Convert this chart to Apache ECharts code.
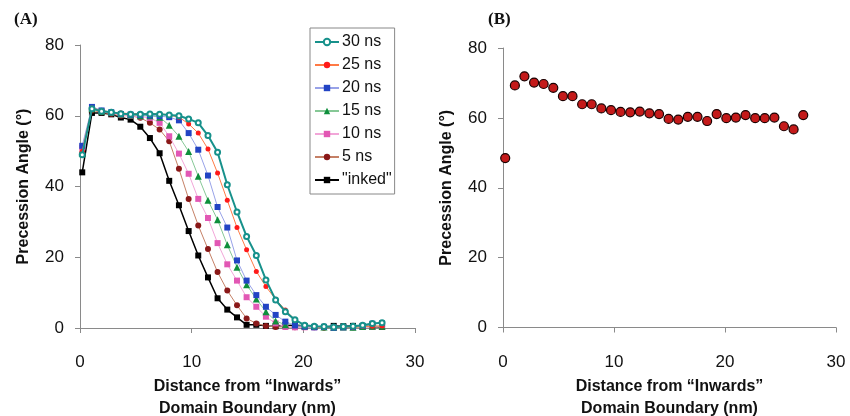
<!DOCTYPE html>
<html>
<head>
<meta charset="utf-8">
<script src="https://cdn.jsdelivr.net/npm/echarts@6/dist/echarts.min.js"></script>
<style>html,body{margin:0;padding:0;background:#fff}#c{width:850px;height:416px}</style>
</head>
<body>
<div id="c"></div>
<script>
// Distance from "Inwards" domain boundary (nm), shared by all series
const xPos = [0.2, 1.07, 1.93, 2.8, 3.66, 4.53, 5.4, 6.26, 7.13, 7.99, 8.86, 9.73, 10.59, 11.46, 12.32, 13.19,
  14.06, 14.92, 15.79, 16.65, 17.52, 18.39, 19.25, 20.12, 20.98, 21.85, 22.72, 23.58, 24.45, 25.31, 26.18, 27.05];

// Panel A series (precession angle, degrees)
const ns30 = [49.0, 62.0, 61.3, 61.0, 60.6, 60.4, 60.4, 60.5, 60.4, 60.2, 60.0, 59.1, 58.0, 54.4, 49.7, 40.5,
  32.8, 25.9, 20.5, 13.6, 7.9, 4.6, 2.3, 0.8, 0.5, 0.4, 0.3, 0.4, 0.5, 0.8, 1.3, 1.5];
const ns25 = [50.0, 62.2, 61.5, 61.0, 60.8, 60.6, 60.6, 60.6, 60.6, 60.2, 59.6, 57.7, 55.1, 50.6, 43.8, 36.1,
  28.4, 22.1, 16.0, 11.7, 8.1, 5.1, 2.3, 0.8, 0.3, 0.2, 0.2, 0.3, 0.2, 0.4, 0.5, 0.6];
const ns20 = [51.5, 62.5, 61.5, 61.0, 60.5, 60.3, 60.2, 60.1, 59.9, 59.6, 58.7, 55.1, 50.4, 43.1, 34.2, 28.4,
  19.1, 13.4, 9.3, 6.0, 3.7, 1.8, 0.7, 0.4, 0.2, 0.3, 0.1, 0.2, 0.3, 0.6, 1.2, 1.3];
const ns15 = [49.5, 62.0, 61.3, 61.0, 60.5, 60.2, 60.0, 60.0, 59.6, 57.3, 54.2, 49.9, 42.9, 36.1, 30.6, 23.5,
  17.2, 12.2, 8.2, 4.6, 2.0, 0.9, 1.2, 0.6, 0.4, 0.3, 0.2, 0.3, 0.2, 0.4, 0.5, 0.5];
const ns10 = [51.0, 62.0, 61.3, 60.8, 60.3, 60.0, 59.8, 59.4, 58.0, 54.2, 49.3, 43.6, 36.5, 31.1, 24.0, 18.0,
  13.4, 8.7, 6.0, 3.2, 1.3, 0.3, 0.2, 0.2, 0.2, 0.3, 0.1, 0.2, 0.2, 0.3, 0.4, 0.5];
const ns5 = [49.5, 61.5, 61.0, 60.5, 60.0, 60.0, 59.4, 58.0, 56.1, 52.8, 45.0, 36.5, 29.0, 22.3, 15.8, 10.6,
  6.4, 2.7, 1.3, 0.6, 0.3, 0.3, 0.2, 0.3, 0.2, 0.1, 0.2, 0.3, 0.2, 0.3, 0.4, 0.4];
const inked = [44.0, 60.8, 60.8, 60.4, 59.5, 58.9, 56.9, 53.7, 49.4, 41.6, 34.7, 27.4, 20.5, 14.3, 8.4, 5.2,
  3.0, 0.9, 0.9, 0.6, 0.5, 0.8, 0.8, 0.5, 0.3, 0.3, 0.6, 0.5, 0.6, 0.5, 0.4, 0.3];

// Panel B
const panelB = [48.5, 69.3, 71.9, 70.1, 69.7, 68.6, 66.2, 66.2, 63.9, 63.9, 62.7, 62.2, 61.7, 61.6, 61.8, 61.3,
  61.1, 59.7, 59.5, 60.3, 60.3, 59.1, 61.1, 59.9, 60.1, 60.8, 59.9, 59.9, 60.1, 57.6, 56.7, 60.8];

const legendNames = ['30 ns', '25 ns', '20 ns', '15 ns', '10 ns', '5 ns', '"inked"'];
const xTicks = [0, 10, 20, 30];
const yTicks = [0, 20, 40, 60, 80];

const pair = (ys) => xPos.map((x, i) => [x, ys[i]]);

const FONT = 'Liberation Sans, Arial, sans-serif';
const axisCommon = {
  axisLine: { show: true, lineStyle: { color: '#8a8a8a', width: 1 } },
  axisTick: { show: true, inside: false, length: 5, lineStyle: { color: '#8a8a8a' } },
  splitLine: { show: false },
  axisLabel: { color: '#111', fontSize: 17, fontFamily: FONT },
  nameTextStyle: { color: '#111', fontSize: 16, fontWeight: 'bold', fontFamily: FONT }
};
const xAxisOf = (gi) => Object.assign({}, axisCommon, {
  type: 'value', gridIndex: gi, min: xTicks[0], max: xTicks[xTicks.length - 1], interval: 10,
  axisLabel: Object.assign({}, axisCommon.axisLabel, { margin: 26, showMaxLabel: true }),
  name: 'Distance from \u201cInwards\u201d\nDomain Boundary (nm)', nameLocation: 'middle', nameGap: 48,
  nameTextStyle: Object.assign({}, axisCommon.nameTextStyle, { lineHeight: 22 })
});
const yAxisOf = (gi) => Object.assign({}, axisCommon, {
  type: 'value', gridIndex: gi, min: yTicks[0], max: yTicks[yTicks.length - 1], interval: 20,
  axisLabel: Object.assign({}, axisCommon.axisLabel, { margin: 16 }),
  name: 'Precession Angle (\u00b0)', nameLocation: 'middle', nameGap: 48
});

const styles = [
  { color: '#17918b', line: '#17918b', symbol: 'emptyCircle', size: 5, width: 2 },
  { color: '#ff1a1a', line: '#ff7a45', symbol: 'circle', size: 5, width: 1 },
  { color: '#2244c4', line: '#98a2e8', symbol: 'rect', size: 6, width: 1 },
  { color: '#0f8f3c', line: '#86c896', symbol: 'triangle', size: 7, width: 1 },
  { color: '#e257b4', line: '#f2a6d8', symbol: 'rect', size: 6, width: 1 },
  { color: '#8a1818', line: '#c58066', symbol: 'circle', size: 6, width: 1 },
  { color: '#000000', line: '#000000', symbol: 'rect', size: 6, width: 1.5 }
];
const dataA = [ns30, ns25, ns20, ns15, ns10, ns5, inked];

const seriesA = dataA.map((d, k) => ({
  type: 'line', name: legendNames[k], xAxisIndex: 0, yAxisIndex: 0,
  data: pair(d), symbol: styles[k].symbol, symbolSize: styles[k].size, showSymbol: true, showAllSymbol: true,
  itemStyle: { color: styles[k].color, borderWidth: styles[k].symbol === 'emptyCircle' ? 1.3 : 0 },
  lineStyle: { color: styles[k].line, width: styles[k].width, type: 'solid' },
  animation: false, z: 10 - k
}));

const option = {
  backgroundColor: '#ffffff',
  animation: false,
  title: [
    { text: '(A)', left: 9, top: 6, textStyle: { fontFamily: 'Liberation Serif, Times New Roman, serif', fontWeight: 'bold', fontSize: 17, color: '#111' } },
    { text: '(B)', left: 483, top: 6, textStyle: { fontFamily: 'Liberation Serif, Times New Roman, serif', fontWeight: 'bold', fontSize: 17, color: '#111' } }
  ],
  grid: [
    { left: 80, top: 45, width: 335, height: 283, containLabel: false, outerBoundsMode: 'none' },
    { left: 503, top: 48, width: 333, height: 279.5, containLabel: false, outerBoundsMode: 'none' }
  ],
  xAxis: [xAxisOf(0), xAxisOf(1)],
  yAxis: [yAxisOf(0), yAxisOf(1)],
  legend: {
    data: legendNames, orient: 'vertical', left: 310, top: 28,
    padding: [6, 3, 6, 4], itemGap: 7, itemWidth: 24, itemHeight: 8,
    borderColor: '#888', borderWidth: 1,
    textStyle: { color: '#111', fontSize: 16, fontFamily: FONT, lineHeight: 16, padding: [0, 0, 0, -2] }
  },
  series: seriesA.concat([{
    type: 'scatter', xAxisIndex: 1, yAxisIndex: 1, data: pair(panelB),
    symbol: 'circle', symbolSize: 9,
    itemStyle: { color: '#c41a1a', borderColor: '#1a0000', borderWidth: 1.2, opacity: 1 }
  }])
};

const chart = echarts.init(document.getElementById('c'), null, { renderer: 'canvas' });
chart.setOption(option);
</script>
</body>
</html>
